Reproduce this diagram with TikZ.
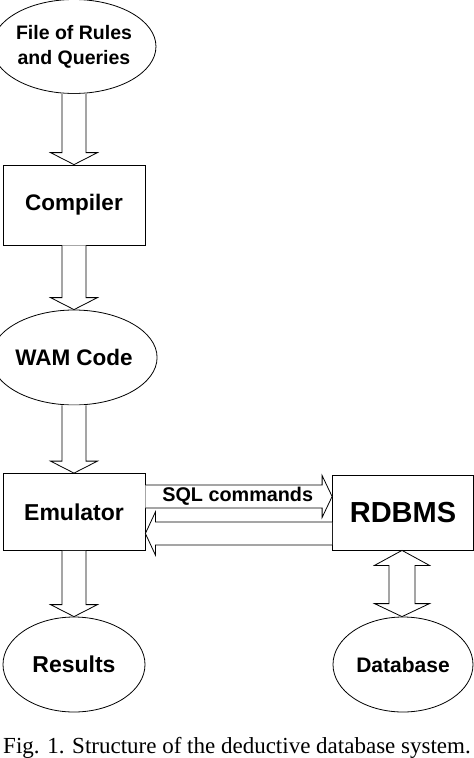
\documentclass[tikz,border=0pt]{standalone}
\usepackage{fontspec}
\setmainfont{Liberation Serif}
\newfontfamily\lsans{Liberation Sans}
\usetikzlibrary{shapes.geometric,calc}
\tikzset{
  ell/.style={ellipse,draw,line width=0.8pt,inner sep=0pt,minimum width=142pt,minimum height=95pt,font=\lsans\bfseries,align=center},
  boxn/.style={rectangle,draw,line width=0.8pt,inner sep=0pt,minimum width=142pt,font=\lsans\bfseries},
  holl/.style={draw,line width=0.8pt,fill=white,line join=miter},
}
% vertical hollow arrow, downwards: #1 start point, #2 tip point
\newcommand\hdown[2]{%
  \draw[holl] ($(#1)+(-12,0)$) -- ($(#2)+(-12,-12)$) -- ($(#2)+(-23.5,-12)$) -- (#2)
    -- ($(#2)+(23.5,-12)$) -- ($(#2)+(12,-12)$) -- ($(#1)+(12,0)$);}
\begin{document}
\begin{tikzpicture}[x=1pt,y=-1pt]
\useasboundingbox (0,0) rectangle (474,758);
% nodes
\node[ell,minimum height=94pt,font=\lsans\bfseries\fontsize{19.5}{25}\selectfont] (f) at (74,46.5) {File of Rules\\and Queries};
\node[boxn,minimum height=80pt,font=\lsans\bfseries\fontsize{22.5}{26}\selectfont] (c) at (74,205) {Compiler};
\node[ell,font=\lsans\bfseries\fontsize{22.5}{26}\selectfont] (w) at (74,357.5) {WAM Code};
\node[boxn,minimum height=77pt,font=\lsans\bfseries\fontsize{23}{26}\selectfont] (e) at (74,512) {Emulator};
\node[boxn,minimum width=141pt,minimum height=75pt,font=\lsans\bfseries\fontsize{29}{32}\selectfont] (r) at (403,512.5) {RDBMS};
\node[ell,font=\lsans\bfseries\fontsize{23}{26}\selectfont] (res) at (74,664.5) {Results};
\node[ell,minimum width=140pt,font=\lsans\bfseries\fontsize{21}{24}\selectfont] (d) at (403,664.5) {Database};
\node[font=\fontsize{23}{26}\selectfont] (cap) at (237,748) {Fig. 1. Structure of the deductive database system.};
% vertical arrows
\hdown{f.south}{c.north}
\hdown{c.south}{w.north}
\hdown{w.south}{e.north}
\hdown{e.south}{res.north}
% double arrow RDBMS <-> Database
\coordinate (rs) at ($(r.south)+(-1,0)$);
\coordinate (dn) at ($(d.north)+(-1,0)$);
\draw[holl] (rs) -- ($(rs)+(27.5,15)$) -- ($(rs)+(13,15)$) -- ($(dn)+(13,-13)$) -- ($(dn)+(27.5,-13)$) -- (dn)
   -- ($(dn)+(-27.5,-13)$) -- ($(dn)+(-13,-13)$) -- ($(rs)+(-13,15)$) -- ($(rs)+(-27.5,15)$) -- cycle;
% SQL commands arrow (right)
\coordinate (sqa) at ($(e.east)+(0,-15.5)$);
\coordinate (sqb) at ($(r.west)+(0,-16)$);
\draw[holl] ($(sqa)+(0,-11.5)$) -- ($(sqb)+(-10,-11.5)$) -- ($(sqb)+(-10,-21)$) -- (sqb)
   -- ($(sqb)+(-10,21)$) -- ($(sqb)+(-10,11.5)$) -- ($(sqa)+(0,11.5)$);
\node[font=\lsans\bfseries\fontsize{19.8}{22}\selectfont] (sql) at ($(sqa)!0.5!(sqb)+(-1,0)$) {SQL commands};
% return arrow (left)
\coordinate (rta) at ($(r.west)+(0,21)$);
\coordinate (rtb) at ($(e.east)+(0,21.5)$);
\draw[holl] ($(rta)+(0,-11.5)$) -- ($(rtb)+(10,-11.5)$) -- ($(rtb)+(10,-21.5)$) -- (rtb)
   -- ($(rtb)+(10,21.5)$) -- ($(rtb)+(10,11.5)$) -- ($(rta)+(0,11.5)$);
\end{tikzpicture}
\end{document}
